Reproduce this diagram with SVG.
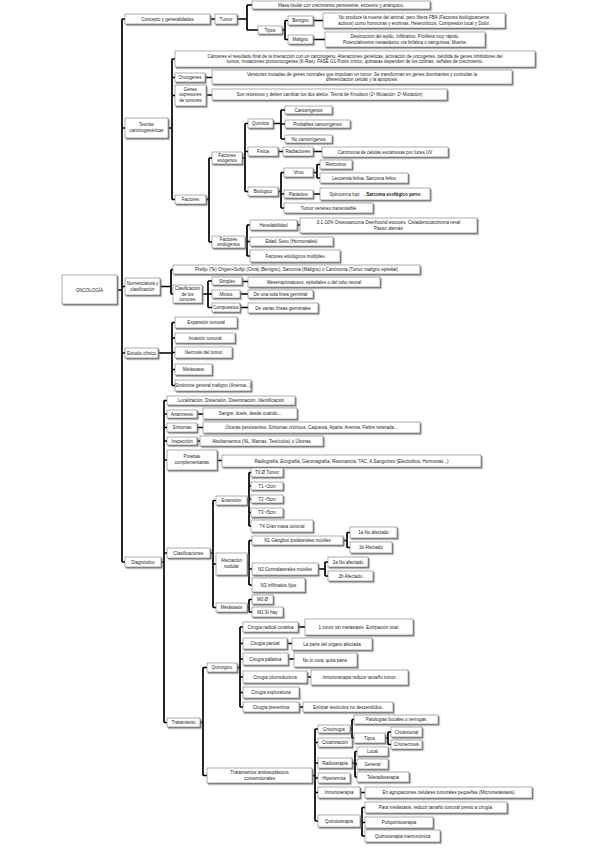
<svg xmlns="http://www.w3.org/2000/svg" width="600" height="848" viewBox="0 0 600 848">
<defs>
<filter id="sh" x="-10%" y="-30%" width="130%" height="180%"><feDropShadow dx="1.3" dy="1.4" stdDeviation="0.35" flood-color="#777" flood-opacity="0.9"/></filter>
<style>
.node rect{fill:#fff;stroke:#777;stroke-width:0.6;filter:url(#sh)}
.node text{font-family:"Liberation Sans",Arial,sans-serif;font-size:4.5px;fill:#222;text-anchor:middle}
.conn path{fill:none;stroke:#000;stroke-width:1.7}
</style>
</defs>
<rect width="600" height="848" fill="#fff"/>
<g class="conn" id="connectors">
<path d="M117 290H122M122 19V562M122 19H125M122 128H125M122 286.5H125M122 353H125M122 562H125"/>
<path d="M210 19H215M237 19H247M247 5V30M247 5H252M247 30H258"/>
<path d="M282 30H285M285 20.5V39.5M285 20.5H288M285 39.5H288M313 20.5H323M313 39.5H325"/>
<path d="M168 128H172M172 59V199.5M172 59H175M172 77.5H175M172 95.5H175M172 199.5H175M205 77.5H212M206 95H212"/>
<path d="M206 199.5H209M209 158V242M209 158H212M209 242H212"/>
<path d="M242 158H245M245 123.5V191.5M245 123.5H248M245 151.5H248M245 191.5H248"/>
<path d="M273 123.5H281M281 110V139M281 110H285M281 124H285M281 139H285"/>
<path d="M278 151.5H283M313 151.5H322"/>
<path d="M278 191.5H281M281 172.5V208M281 172.5H284M281 194H284M281 208H284"/>
<path d="M313 172.5H317M317 164.5V178M317 164.5H320M317 178H320M313 194H320"/>
<path d="M245 242H247M247 225V256M247 225H250M247 241.5H250M247 256H250M297 225H300"/>
<path d="M160 286.5H171M171 269.5V294M171 269.5H173M171 294H173"/>
<path d="M202 294H208M208 281V307.5M208 281H212M208 294H212M208 307.5H212M242 281.5H248M240 294H248M240 307.5H248"/>
<path d="M158 353H172M172 322.5V385.5M172 322.5H175M172 338H175M172 352.5H175M172 369.5H175M172 385.5H175"/>
<path d="M161 562H164M164 400.5V722.5M164 400.5H167M164 414H167M164 427.5H167M164 441H167M164 460H167M164 553H167M164 722.5H167"/>
<path d="M197 414H203M197 427.5H203M197 441H200M217 460.5H222"/>
<path d="M210 553H213M213 500.5V607.5M213 500.5H216M213 564H216M213 607.5H216"/>
<path d="M247 500.5H249M249 472.5V526M249 472.5H251M249 486H251M249 499H251M249 512.5H251M249 526H251"/>
<path d="M247 564H249M249 540.5V585M249 540.5H252M249 569H252M249 585H252"/>
<path d="M343 540.5H347M347 532.5V547.5M347 532.5H350M347 547.5H350"/>
<path d="M318 569H325M325 562V576M325 562H328M325 576H328"/>
<path d="M247 607.5H249M249 599.5V612M249 599.5H252M249 612H252"/>
<path d="M200 722.5H203M203 667.5V775.5M203 667.5H207M203 775.5H207"/>
<path d="M237 667.5H240M240 627V707M240 627H243M240 643.5H243M240 659H243M240 677H243M240 692.5H243M240 707H243"/>
<path d="M298 627H305M287 643.5H292M288 659H294M307 677H311M299 707H303"/>
<path d="M312 775.5H315M315 729V821M315 729H318M315 742.5H318M315 763H318M315 778H318M315 792.5H318M315 821H318"/>
<path d="M350 729H352M352 719.5V738M352 719.5H354M352 738H354"/>
<path d="M385 738H388M388 732V744.5M388 732H391M388 744.5H391"/>
<path d="M352 763H355M355 751.5V777M355 751.5H357M355 764H357M355 777H357"/>
<path d="M360 792.5H365M360 821H362M362 807.5V836M362 807.5H365M362 822.5H365M362 836H365"/>
</g>

<g class="node" id="n-root"><rect x="62" y="275" width="55" height="29"/><text x="89.5" y="291.6">ONCOLOGÍA</text></g>

<g class="node" id="n-concepto"><rect x="125" y="14" width="85" height="10"/><text x="167.5" y="20.6">Concepto y generalidades</text></g>
<g class="node" id="n-tumor"><rect x="215" y="14" width="22" height="10"/><text x="226" y="20.6">Tumor</text></g>
<g class="node" id="n-masa"><rect x="252" y="1" width="178" height="8"/><text x="341" y="6.6">Masa tisular con crecimiento persistente, excesivo y anárquico.</text></g>
<g class="node" id="n-tipos"><rect x="258" y="26" width="24" height="8"/><text x="270" y="31.6">Tipos</text></g>
<g class="node" id="n-benigno"><rect x="288" y="16" width="25" height="9"/><text x="300.5" y="22.1">Benigno</text></g>
<g class="node" id="n-maligno"><rect x="288" y="35" width="25" height="9"/><text x="300.5" y="41.1">Maligno</text></g>
<g class="node" id="n-benigno-d"><rect x="323" y="13" width="182" height="15"/><text x="414" y="19.3">No produce la muerte del animal, pero libera FBA (Factores biológicamente</text><text x="414" y="25">activos) como hormonas y enzimas. Heterotíticos, Compresión local y Dolor.</text></g>
<g class="node" id="n-maligno-d"><rect x="325" y="32" width="160" height="15"/><text x="405" y="38.3">Destrucción del tejido, Infiltrativo, Prolifera muy rápido.</text><text x="405" y="44">Potencialmente metastásico vía linfática o sanguínea. Muerte.</text></g>

<g class="node" id="n-teorias"><rect x="125" y="118" width="43" height="20"/><text x="146.5" y="126.4">Teorías</text><text x="146.5" y="132.2">carcinogenéticas</text></g>
<g class="node" id="n-teoria-texto"><rect x="175" y="51" width="360" height="16"/><text x="355" y="57.6">Cánceres el resultado final de la interacción con un carcinógeno. Alteraciones genéticas, activación de oncogenes, pérdida de genes inhibidores del</text><text x="355" y="63.4">tumos, mutaciones protooncogenes (K-Ras). FASE G1 Punto crítico, quinasas dependen de los ciclinas, señales de crecimiento.</text></g>
<g class="node" id="n-oncogenes"><rect x="175" y="73" width="30" height="9"/><text x="190" y="79.1">Oncogenes</text></g>
<g class="node" id="n-oncogenes-d"><rect x="212" y="70" width="300" height="14"/><text x="362" y="75.8">Versiones mutadas de genes normales que impulsan un tumor. Se transforman en genes dominantes y controlan la</text><text x="362" y="81.4">diferenciación celular y la apoptosis.</text></g>
<g class="node" id="n-supresores"><rect x="175" y="85" width="31" height="21"/><text x="190.5" y="90.5">Genes</text><text x="190.5" y="96.1">supresores</text><text x="190.5" y="101.7">de tumores</text></g>
<g class="node" id="n-supresores-d"><rect x="212" y="89" width="235" height="11"/><text x="329.5" y="96.1">Son recesivos y deben cambiar los dos alelos. Teoría de Knudson (1ª Mutación- 2ª Mutación)</text></g>
<g class="node" id="n-factores"><rect x="175" y="195" width="31" height="9"/><text x="190.5" y="201.1">Factores</text></g>
<g class="node" id="n-exogenos"><rect x="212" y="152" width="30" height="12"/><text x="227" y="156.8">Factores</text><text x="227" y="162.2">exógenos</text></g>
<g class="node" id="n-endogenos"><rect x="212" y="236" width="33" height="12"/><text x="228.5" y="240.8">Factores</text><text x="228.5" y="246.2">endógenos</text></g>
<g class="node" id="n-quimica"><rect x="248" y="119" width="25" height="9"/><text x="260.5" y="125.1">Química</text></g>
<g class="node" id="n-fisica"><rect x="248" y="147" width="30" height="9"/><text x="263" y="153.1">Física</text></g>
<g class="node" id="n-biologico"><rect x="248" y="187" width="30" height="9"/><text x="263" y="193.1">Biológico</text></g>
<g class="node" id="n-cancerigenos"><rect x="285" y="106" width="47" height="8"/><text x="308.5" y="111.6">Cancerígenos</text></g>
<g class="node" id="n-probables"><rect x="285" y="120" width="65" height="8"/><text x="317.5" y="125.6">Probables cancerígenos</text></g>
<g class="node" id="n-nocancerigenos"><rect x="285" y="135" width="47" height="8"/><text x="308.5" y="140.6">No cancerígenos</text></g>
<g class="node" id="n-radiaciones"><rect x="283" y="147" width="30" height="9"/><text x="298" y="153.1">Radiaciones</text></g>
<g class="node" id="n-radiaciones-d"><rect x="322" y="147" width="126" height="10"/><text x="385" y="153.6">Carcinoma de células escamosas por luces UV</text></g>
<g class="node" id="n-virus"><rect x="284" y="168" width="29" height="9"/><text x="298.5" y="174.1">Virus</text></g>
<g class="node" id="n-parasitos"><rect x="284" y="190" width="29" height="8"/><text x="298.5" y="195.6">Parásitos</text></g>
<g class="node" id="n-tvt"><rect x="284" y="203" width="89" height="10"/><text x="328.5" y="209.6">Tumor venéreo transmisible</text></g>
<g class="node" id="n-retrovirus"><rect x="320" y="160" width="32" height="9"/><text x="336" y="166.1">Retrovirus</text></g>
<g class="node" id="n-leucemia"><rect x="320" y="173" width="88" height="10"/><text x="364" y="179.6">Leucemia felina, Sarcoma felino</text></g>
<g class="node" id="n-spirocerca"><rect x="320" y="188" width="110" height="12"/><text x="375" y="195.6">Spirocerca lupi → <tspan font-weight="bold">Sarcoma esofágico perro</tspan></text></g>
<g class="node" id="n-heredabilidad"><rect x="250" y="220" width="47" height="10"/><text x="273.5" y="226.6">Heredabilidad</text></g>
<g class="node" id="n-heredabilidad-d"><rect x="300" y="218" width="177" height="15"/><text x="388.5" y="224.3">0.1-10% Osteosarcoma Deerhound escocés. Cistadenocarcinoma renal</text><text x="388.5" y="230">Pastor alemán</text></g>
<g class="node" id="n-edad"><rect x="250" y="237" width="83" height="9"/><text x="291.5" y="243.1">Edad, Sexo (Hormonales)</text></g>
<g class="node" id="n-multiples"><rect x="250" y="250" width="90" height="12"/><text x="295" y="257.6">Factores etiológicos múltiples</text></g>

<g class="node" id="n-nomenclatura"><rect x="125" y="278" width="35" height="17"/><text x="142.5" y="285.2">Nomenclatura y</text><text x="142.5" y="290.8">clasificación</text></g>
<g class="node" id="n-prefijo"><rect x="173" y="265" width="247" height="9"/><text x="296.5" y="271.1">Prefijo (Te) Origen+Sufijo (Oma) (Benigno), Sarcoma (Maligno) o Carcinoma (Tumor maligno epitelial)</text></g>
<g class="node" id="n-clasif-tumores"><rect x="173" y="285" width="29" height="18"/><text x="187.5" y="290">Clasificación</text><text x="187.5" y="295.6">de los</text><text x="187.5" y="301.2">tumores</text></g>
<g class="node" id="n-simples"><rect x="212" y="277" width="30" height="8"/><text x="227" y="282.6">Simples</text></g>
<g class="node" id="n-mixtos"><rect x="212" y="290" width="28" height="8"/><text x="226" y="295.6">Mixtos</text></g>
<g class="node" id="n-compuestos"><rect x="212" y="303" width="28" height="9"/><text x="226" y="309.1">Compuestos</text></g>
<g class="node" id="n-simples-d"><rect x="248" y="277" width="132" height="10"/><text x="314" y="283.6">Mesenquimatosos, epiteliales o del tubo neural</text></g>
<g class="node" id="n-mixtos-d"><rect x="248" y="290" width="65" height="8"/><text x="280.5" y="295.6">De una sola línea germinal</text></g>
<g class="node" id="n-compuestos-d"><rect x="248" y="303" width="70" height="10"/><text x="283" y="309.6">De varias líneas germinales</text></g>

<g class="node" id="n-estudio"><rect x="125" y="348" width="33" height="10"/><text x="141.5" y="354.6">Estudio clínico</text></g>
<g class="node" id="n-expansion"><rect x="175" y="317" width="62" height="11"/><text x="206" y="324.1">Expansión tumoral</text></g>
<g class="node" id="n-invasion"><rect x="175" y="333" width="60" height="10"/><text x="205" y="339.6">Invasión tumoral</text></g>
<g class="node" id="n-necrosis"><rect x="175" y="347" width="57" height="11"/><text x="203.5" y="354.1">Necrosis del tumor</text></g>
<g class="node" id="n-metastasis1"><rect x="175" y="364" width="37" height="11"/><text x="193.5" y="371.1">Metástasis</text></g>
<g class="node" id="n-sindrome"><rect x="175" y="380" width="76" height="11"/><text x="213" y="387.1" font-size="4.1">Síndrome general maligno (Anemia...)</text></g>

<g class="node" id="n-diagnostico"><rect x="125" y="557" width="36" height="10"/><text x="143" y="563.6">Diagnóstico</text></g>
<g class="node" id="n-localizacion"><rect x="167" y="396" width="128" height="9"/><text x="231" y="402.1">Localización, Distensión, Diseminación, Identificación</text></g>
<g class="node" id="n-anamnesis"><rect x="167" y="410" width="30" height="8"/><text x="182" y="415.6">Anamnesis</text></g>
<g class="node" id="n-anamnesis-d"><rect x="203" y="408" width="94" height="11"/><text x="250" y="415.1">Sangre, duele, desde cuándo...</text></g>
<g class="node" id="n-sintomas"><rect x="167" y="423" width="30" height="9"/><text x="182" y="429.1">Síntomas</text></g>
<g class="node" id="n-sintomas-d"><rect x="203" y="422" width="217" height="11"/><text x="311.5" y="429.1">Úlceras persistentes, Síntomas crónicos, Caquexia, Apatía, Anemia, Fiebre reiterada...</text></g>
<g class="node" id="n-inspeccion"><rect x="167" y="437" width="30" height="8"/><text x="182" y="442.6">Inspección</text></g>
<g class="node" id="n-inspeccion-d"><rect x="200" y="436" width="123" height="10"/><text x="261.5" y="442.6">Abultamientos (NL, Mamas, Testículos) o Úlceras</text></g>
<g class="node" id="n-pruebas"><rect x="167" y="450" width="50" height="20"/><text x="192" y="458.4">Pruebas</text><text x="192" y="464.2">complementarias</text></g>
<g class="node" id="n-pruebas-d"><rect x="222" y="455" width="259" height="12"/><text x="351.5" y="462.6">Radiografía, Ecografía, Gammagrafía, Resonancia, TAC, A.Sanguíneo (Electrolitos, Hormonas...)</text></g>
<g class="node" id="n-clasificaciones"><rect x="167" y="548" width="43" height="10"/><text x="188.5" y="554.6">Clasificaciones</text></g>
<g class="node" id="n-extension"><rect x="216" y="496" width="31" height="9"/><text x="231.5" y="502.1">Extensión</text></g>
<g class="node" id="n-afectacion"><rect x="216" y="553" width="31" height="22"/><text x="231.5" y="562.4">Afectación</text><text x="231.5" y="568">nodular</text></g>
<g class="node" id="n-metastasis2"><rect x="216" y="603" width="31" height="9"/><text x="231.5" y="609.1">Metástasis</text></g>
<g class="node" id="n-t0"><rect x="251" y="468" width="32" height="9"/><text x="267" y="474.1">T0 Ø Tumor</text></g>
<g class="node" id="n-t1"><rect x="251" y="482" width="32" height="8"/><text x="267" y="487.6">T1 &lt;2cm</text></g>
<g class="node" id="n-t2"><rect x="251" y="495" width="32" height="8"/><text x="267" y="500.6">T2 &lt;5cm</text></g>
<g class="node" id="n-t3"><rect x="251" y="508" width="32" height="9"/><text x="267" y="514.1">T3 &gt;5cm</text></g>
<g class="node" id="n-t4"><rect x="251" y="520" width="62" height="12"/><text x="282" y="527.6">T4 Gran masa tumoral</text></g>
<g class="node" id="n-n1"><rect x="252" y="536" width="91" height="9"/><text x="297.5" y="542.1">N1 Ganglios ipsilaterales móviles</text></g>
<g class="node" id="n-n2"><rect x="252" y="563" width="66" height="12"/><text x="285" y="570.6">N2 Contralaterales móviles</text></g>
<g class="node" id="n-n3"><rect x="252" y="578" width="53" height="14"/><text x="278.5" y="586.6">N3 Infiltrados fijos</text></g>
<g class="node" id="n-1a"><rect x="350" y="527" width="47" height="11"/><text x="373.5" y="534.1">1a No afectado</text></g>
<g class="node" id="n-1b"><rect x="350" y="542" width="42" height="11"/><text x="371" y="549.1">1b Afectado</text></g>
<g class="node" id="n-2a"><rect x="328" y="557" width="40" height="10"/><text x="348" y="563.6">2a No afectado</text></g>
<g class="node" id="n-2b"><rect x="328" y="571" width="45" height="10"/><text x="350.5" y="577.6">2b Afectado</text></g>
<g class="node" id="n-m0"><rect x="252" y="595" width="21" height="9"/><text x="262.5" y="601.1">M0 Ø</text></g>
<g class="node" id="n-m1"><rect x="252" y="607" width="31" height="10"/><text x="267.5" y="613.6">M1 Sí hay</text></g>

<g class="node" id="n-tratamiento"><rect x="167" y="718" width="33" height="9"/><text x="183.5" y="724.1">Tratamiento</text></g>
<g class="node" id="n-quirurgico"><rect x="207" y="663" width="30" height="9"/><text x="222" y="669.1">Quirúrgico</text></g>
<g class="node" id="n-radical"><rect x="243" y="622" width="55" height="10"/><text x="270.5" y="628.6">Cirugía radical curativa</text></g>
<g class="node" id="n-radical-d"><rect x="305" y="619" width="108" height="16"/><text x="359" y="628.6">1 tumor sin metástasis. Extirpación total.</text></g>
<g class="node" id="n-parcial"><rect x="243" y="638" width="44" height="11"/><text x="265" y="645.1">Cirugía parcial</text></g>
<g class="node" id="n-parcial-d"><rect x="292" y="638" width="80" height="12"/><text x="332" y="645.6">La parte del órgano afectada</text></g>
<g class="node" id="n-paliativa"><rect x="243" y="653" width="45" height="12"/><text x="265.5" y="660.6">Cirugía paliativa</text></g>
<g class="node" id="n-paliativa-d"><rect x="294" y="653" width="63" height="14"/><text x="325.5" y="661.6">No lo cura, quita parte.</text></g>
<g class="node" id="n-citorreductora"><rect x="243" y="671" width="64" height="12"/><text x="275" y="678.6">Cirugía citorreductora</text></g>
<g class="node" id="n-citorreductora-d"><rect x="311" y="670" width="97" height="15"/><text x="359.5" y="679.1">Inmunoterapia reduce tamaño tumor.</text></g>
<g class="node" id="n-exploratoria"><rect x="243" y="687" width="56" height="11"/><text x="271" y="694.1">Cirugía exploratoria</text></g>
<g class="node" id="n-preventiva"><rect x="243" y="702" width="56" height="10"/><text x="271" y="708.6">Cirugía preventiva</text></g>
<g class="node" id="n-preventiva-d"><rect x="303" y="702" width="90" height="10"/><text x="348" y="708.6">Extirpar testículos no descendidos.</text></g>
<g class="node" id="n-antineoplasicos"><rect x="207" y="768" width="105" height="15"/><text x="259.5" y="774.3">Tratamientos antineoplásicos</text><text x="259.5" y="780">convencionales</text></g>
<g class="node" id="n-criocirugia"><rect x="318" y="725" width="32" height="8"/><text x="334" y="730.6">Criocirugía</text></g>
<g class="node" id="n-cicatrizacion"><rect x="318" y="738" width="34" height="9"/><text x="335" y="744.1">Cicatrización</text></g>
<g class="node" id="n-radioterapia"><rect x="318" y="758" width="34" height="10"/><text x="335" y="764.6">Radioterapia</text></g>
<g class="node" id="n-hipertermia"><rect x="318" y="773" width="32" height="10"/><text x="334" y="779.6">Hipertermia</text></g>
<g class="node" id="n-inmunoterapia"><rect x="318" y="787" width="42" height="11"/><text x="339" y="794.1">Inmunoterapia</text></g>
<g class="node" id="n-inmunoterapia-d"><rect x="365" y="787" width="167" height="11"/><text x="448.5" y="794.1">En agrupaciones celulares tumorales pequeñas  (Micrometástasis)</text></g>
<g class="node" id="n-quimioterapia"><rect x="318" y="815" width="42" height="12"/><text x="339" y="822.6">Quimioterapia</text></g>
<g class="node" id="n-patologias"><rect x="354" y="715" width="84" height="9"/><text x="396" y="721.1">Patologías bucales o verrugas</text></g>
<g class="node" id="n-tipos2"><rect x="354" y="733" width="31" height="10"/><text x="369.5" y="739.6">Tipos</text></g>
<g class="node" id="n-criolesional"><rect x="391" y="727" width="31" height="10"/><text x="406.5" y="733.6">Criolesional</text></g>
<g class="node" id="n-crionecrosis"><rect x="391" y="740" width="31" height="9"/><text x="406.5" y="746.1">Crionecrosis</text></g>
<g class="node" id="n-local"><rect x="357" y="747" width="31" height="9"/><text x="372.5" y="753.1">Local</text></g>
<g class="node" id="n-general"><rect x="357" y="759" width="31" height="10"/><text x="372.5" y="765.6">General</text></g>
<g class="node" id="n-teleradio"><rect x="357" y="772" width="52" height="10"/><text x="383" y="778.6">Teleradioterapia</text></g>
<g class="node" id="n-paramet"><rect x="365" y="802" width="142" height="11"/><text x="436" y="809.1">Para metástasis, reducir tamaño tumoral previo a cirugía.</text></g>
<g class="node" id="n-poliquimio"><rect x="365" y="817" width="68" height="11"/><text x="399" y="824.1">Poliquimioterapia</text></g>
<g class="node" id="n-metronomica"><rect x="365" y="830" width="75" height="12"/><text x="402.5" y="837.6">Quimioterapia metronómica</text></g>
</svg>
